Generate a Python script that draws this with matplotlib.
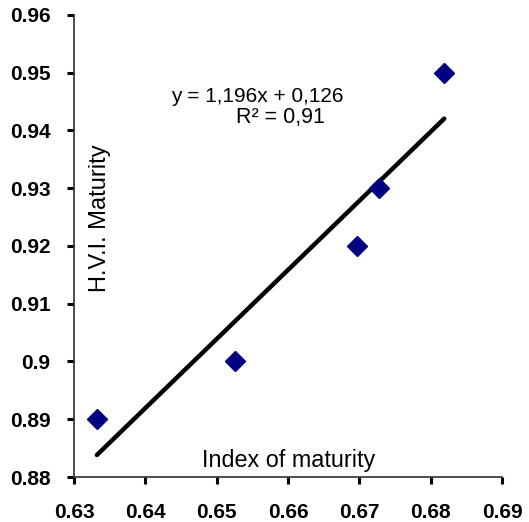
import numpy as np
import matplotlib
matplotlib.use("Agg")
import matplotlib.pyplot as plt

# data
index_maturity = [0.6332, 0.6526, 0.6697, 0.6728, 0.6819]
hvi_maturity = [0.890, 0.900, 0.920, 0.930, 0.950]
slope, intercept = 1.196, 0.126
x_ticks = [0.63, 0.64, 0.65, 0.66, 0.67, 0.68, 0.69]
y_ticks = [0.88, 0.89, 0.90, 0.91, 0.92, 0.93, 0.94, 0.95, 0.96]
y_labels = ["0.88", "0.89", "0.9", "0.91", "0.92", "0.93", "0.94", "0.95", "0.96"]

plt.rcParams["font.family"] = ["Liberation Sans", "DejaVu Sans"]

fig = plt.figure(figsize=(5.29, 5.22), dpi=100)
ax = fig.add_axes([0.140, 0.0862, 0.809, 0.8851])

x_fit = np.array([min(index_maturity), max(index_maturity)])
ax.plot(x_fit, slope * x_fit + intercept + 0.0005, color="black", lw=3.2,
        solid_capstyle="round", zorder=2)
ax.plot(index_maturity, hvi_maturity, linestyle="none", marker="D",
        ms=10, color="#000080", zorder=3)

ax.set_xlim(0.63, 0.69)
ax.set_ylim(0.88, 0.96)
ax.set_xticks(x_ticks)
ax.set_xticklabels([f"{v:.2f}" for v in x_ticks])
ax.set_yticks(y_ticks)
ax.set_yticklabels(y_labels)

for side in ("top", "right"):
    ax.spines[side].set_visible(False)
for side in ("left", "bottom"):
    ax.spines[side].set_color("#303030")
    ax.spines[side].set_linewidth(1.2)

ax.tick_params(axis="both", direction="out", length=5, width=2.2,
               colors="black", labelsize=15)
ax.tick_params(axis="x", pad=14)
ax.tick_params(axis="y", pad=12)
for lab in ax.get_xticklabels() + ax.get_yticklabels():
    lab.set_fontweight("bold")

ax.text(0.6336, 0.9248, "H.V.I. Maturity", rotation=90, fontsize=17,
        ha="center", va="center")
ax.text(0.66015, 0.8829, "Index of maturity", fontsize=16.8,
        ha="center", va="center")
ax.text(0.65567, 0.94494, "y = 1,196x + 0,126", fontsize=15,
        ha="center", va="baseline")
ax.text(0.65889, 0.94130, "R² = 0,91", fontsize=15.5,
        ha="center", va="baseline")

fig.savefig("out.png", dpi=100)
